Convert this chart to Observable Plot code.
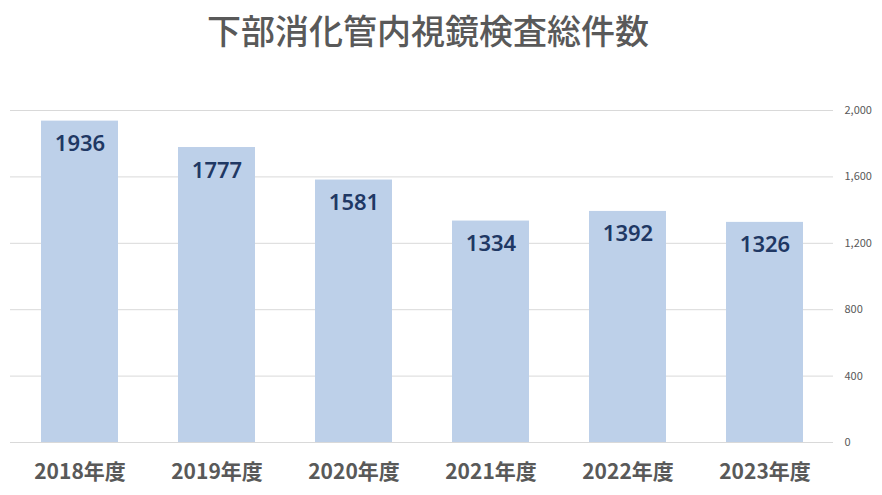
<!DOCTYPE html>
<html>
<head>
<meta charset="utf-8">
<script src="https://cdn.jsdelivr.net/npm/d3@7"></script>
<script src="https://cdn.jsdelivr.net/npm/@observablehq/plot@0.6"></script>
<style>
  body { margin: 0; background: #fff; }
  #title { height: 60px; line-height: 60px; font-family: "Noto Sans CJK JP", sans-serif; font-size: 34px; font-weight: 500; color: #595959; text-align: center; width: 882px; box-sizing: border-box; }
  #title span { position: relative; left: -13px; }
</style>
</head>
<body>
<div id="title"><span>下部消化管内視鏡検査総件数</span></div>
<div id="chart"></div>
<script>
const years = ["2018年度", "2019年度", "2020年度", "2021年度", "2022年度", "2023年度"];
const counts = [1936, 1777, 1581, 1334, 1392, 1326];
const yTicks = [0, 400, 800, 1200, 1600, 2000];

const data = years.map((y, i) => ({year: y, count: counts[i]}));

const chart = Plot.plot({
  width: 882,
  height: 435,
  marginTop: 50,
  marginBottom: 53,
  marginLeft: 10,
  marginRight: 49,
  style: {background: "#fff", fontFamily: "'Noto Sans CJK JP', sans-serif"},
  x: {domain: years, paddingInner: 0.44, paddingOuter: 0.22, label: null},
  y: {domain: [0, 2000], label: null},
  marks: [
    Plot.gridY(yTicks, {stroke: "#d9d9d9", strokeOpacity: 1}),
    Plot.barY(data, {x: "year", y: "count", fill: "#BDD0E9"}),
    Plot.ruleY([0], {stroke: "#d9d9d9"}),
    Plot.text(data, {x: "year", y: "count", text: d => String(d.count), dy: 23, fill: "#1F3864", fontSize: 22, fontWeight: 600, fontFamily: "'Noto Sans', sans-serif"}),
    Plot.axisY({anchor: "right", ticks: yTicks, tickSize: 0, tickPadding: 11, tickFormat: d3.format(","), fontSize: 11, color: "#595959", label: null}),
    Plot.axisX({tickSize: 0, tickPadding: 22, fontSize: 21, fontWeight: "bold", color: "#595959", label: null})
  ]
});
document.getElementById("chart").appendChild(chart);
</script>
</body>
</html>
